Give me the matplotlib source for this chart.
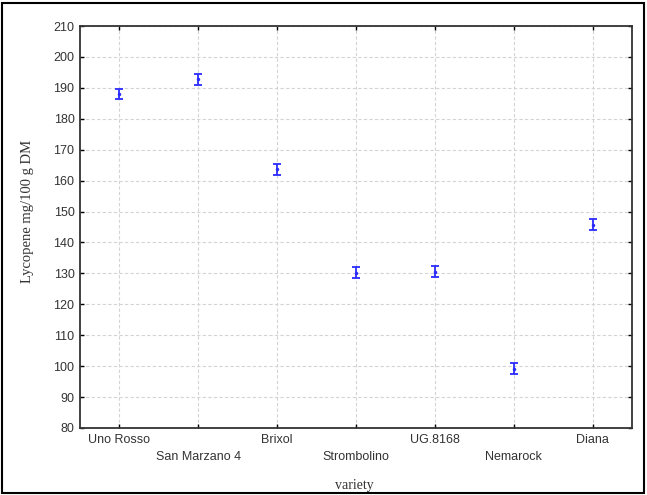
#!/usr/bin/env python3
# Lycopene content by tomato variety, mean with error bars
import matplotlib
matplotlib.use("Agg")
from matplotlib import pyplot as plt
from matplotlib.patches import Rectangle

varieties = ["Uno Rosso", "San Marzano 4", "Brixol", "Strombolino", "UG.8168", "Nemarock", "Diana"]
lycopene = [188.0, 192.8, 163.6, 130.2, 130.6, 99.2, 145.8]
errHalf = [1.6, 1.8, 1.8, 1.8, 1.8, 1.8, 1.8]
yTicks = list(range(80, 211, 10))

plt.rcParams["font.family"] = ["Liberation Sans", "DejaVu Sans"]

fig = plt.figure()
px = 1/plt.rcParams["figure.dpi"]
fig.set_size_inches(647*px, 495*px)
ax = fig.add_axes([80/647, 1-428/495, 552/647, 402/495])

xs = list(range(len(varieties)))
ax.errorbar(xs, lycopene, yerr=errHalf, fmt=".", color="#2b2bff", markersize=3,
            capsize=3, elinewidth=1.3, capthick=1.3, zorder=3)

ax.set_xlim(-0.5, 6.5)
ax.set_ylim(80, 210)
ax.set_yticks(yTicks)
ax.set_yticklabels([str(v) for v in yTicks], fontsize=9, color="#333333")
ax.set_xticks(xs)
ax.set_xticklabels([v if i % 2 == 0 else "\n" + v for i, v in enumerate(varieties)],
                   fontsize=9, color="#333333", linespacing=1.55)
ax.tick_params(direction="in", length=3, width=1, top=True, right=True, pad=4)
ax.grid(True, linestyle=(0, (3, 2)), color="#d4d4d4", linewidth=0.8)
for s in ax.spines.values():
    s.set_linewidth(1.3)
    s.set_color("#333333")

fig.text(28/647, 1-211/495, "Lycopene mg/100 g DM", rotation=90, ha="center", va="center",
         fontsize=10.5, family="Liberation Serif", color="#333333")
fig.text(354/647, 1-486/495, "variety", ha="center", va="center",
         fontsize=10, family="Liberation Serif", color="#333333")

fig.patches.append(Rectangle((2/647, 2/495), 642/647, 490/495, transform=fig.transFigure,
                             fill=False, edgecolor="black", linewidth=1.5))

fig.savefig("out.png")
